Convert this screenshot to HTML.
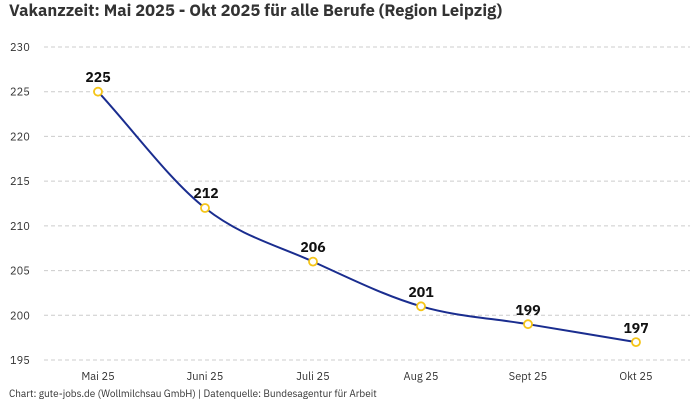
<!DOCTYPE html>
<html><head><meta charset="utf-8"><style>
body{margin:0;background:#fff;}
svg{display:block;font-family:"IBM Plex Sans","Liberation Sans",sans-serif;}
</style></head><body>
<svg width="700" height="400" viewBox="0 0 700 400">
<text x="9" y="16" font-size="16.5" font-weight="bold" fill="#333">Vakanzzeit: Mai 2025 - Okt 2025 für alle Berufe (Region Leipzig)</text>
<g stroke="#ccc" stroke-width="1" stroke-dasharray="4,3">
<line x1="44" x2="690" y1="47" y2="47"/>
<line x1="44" x2="690" y1="91.7" y2="91.7"/>
<line x1="44" x2="690" y1="136.4" y2="136.4"/>
<line x1="44" x2="690" y1="181.1" y2="181.1"/>
<line x1="44" x2="690" y1="225.9" y2="225.9"/>
<line x1="44" x2="690" y1="270.6" y2="270.6"/>
<line x1="44" x2="690" y1="315.3" y2="315.3"/>
<line x1="44" x2="690" y1="360" y2="360"/>
</g>
<g font-size="11" fill="#333">
<text x="10" y="51">230</text>
<text x="10" y="95.7">225</text>
<text x="10" y="140.4">220</text>
<text x="10" y="185.1">215</text>
<text x="10" y="229.9">210</text>
<text x="10" y="274.6">205</text>
<text x="10" y="319.3">200</text>
<text x="10" y="364">195</text>
</g>
<g font-size="11" fill="#333" text-anchor="middle">
<text x="98" y="380">Mai 25</text>
<text x="205" y="380">Juni 25</text>
<text x="313" y="380">Juli 25</text>
<text x="421" y="380">Aug 25</text>
<text x="528" y="380">Sept 25</text>
<text x="636" y="380">Okt 25</text>
</g>
<path d="M98,91.7 C133.7,130.5 169.3,179.8 205,208 C241,236.4 277,245.2 313,261.6 C349,278 385,295.9 421,306.3 C456.7,316.7 492.3,318.2 528,324.2 C564,330.2 600,336.1 636,342.1" fill="none" stroke="#1a2d8f" stroke-width="2"/>
<g fill="#fff" stroke="#f5c518" stroke-width="1.8">
<circle cx="98" cy="91.7" r="4"/><circle cx="205" cy="208" r="4"/><circle cx="313" cy="261.6" r="4"/>
<circle cx="421" cy="306.3" r="4"/><circle cx="528" cy="324.2" r="4"/><circle cx="636" cy="342.1" r="4"/>
</g>
<g font-size="14" font-weight="bold" fill="#111" text-anchor="middle">
<text x="98" y="82">225</text><text x="206" y="198">212</text><text x="313" y="252">206</text>
<text x="421" y="297">201</text><text x="528" y="315">199</text><text x="636" y="333">197</text>
</g>
<text x="9" y="397" font-size="10" fill="#333">Chart: gute-jobs.de (Wollmilchsau GmbH) | Datenquelle: Bundesagentur für Arbeit</text>
</svg>
</body></html>
